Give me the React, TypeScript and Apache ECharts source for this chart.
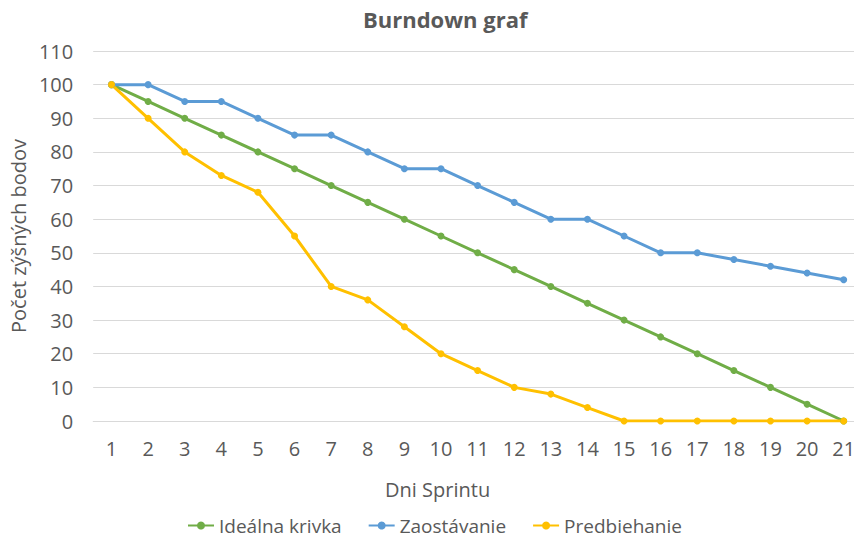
import React, { useEffect, useRef } from "react";
import * as echarts from "echarts";

const days = ["1","2","3","4","5","6","7","8","9","10","11","12","13","14","15","16","17","18","19","20","21"];
const idealna = [100,95,90,85,80,75,70,65,60,55,50,45,40,35,30,25,20,15,10,5,0];
const zaostavanie = [100,100,95,95,90,85,85,80,75,75,70,65,60,60,55,50,50,48,46,44,42];
const predbiehanie = [100,90,80,73,68,55,40,36,28,20,15,10,8,4,0,0,0,0,0,0,0];

const FONT = "Open Sans";
const TXT = "#595959";

export default function App() {
  const ref = useRef<HTMLDivElement>(null);
  useEffect(() => {
    const chart = echarts.init(ref.current!, null, { renderer: "svg" });
    const mk = (name: string, data: number[], color: string) => ({
      name,
      type: "line",
      data,
      symbol: "circle",
      symbolSize: 7,
      color,
      lineStyle: { width: 3, color },
      itemStyle: { color },
    });
    chart.setOption({
      animation: false,
      textStyle: { fontFamily: FONT, color: TXT },
      title: {
        text: "Burndown graf",
        left: 358,
        top: 3,
        textStyle: { fontFamily: FONT, fontSize: 22, fontWeight: "bold", color: TXT },
      },
      legend: {
        left: 182,
        top: 511,
        itemGap: 26,
        itemWidth: 26,
        itemHeight: 10,
        textStyle: { fontFamily: FONT, fontSize: 19, color: TXT },
        data: ["Ideálna krivka", "Zaostávanie", "Predbiehanie"],
      },
      grid: { left: 92, right: 8, top: 51, bottom: 117, containLabel: false },
      xAxis: {
        type: "category",
        data: days,
        boundaryGap: true,
        name: "Dni Sprintu",
        nameLocation: "middle",
        nameGap: 58,
        nameTextStyle: { fontFamily: FONT, fontSize: 20, color: TXT, padding: [0, 80, 0, 0] },
        axisLine: { show: true, lineStyle: { color: "#D9D9D9", width: 1 } },
        axisTick: { show: false },
        axisLabel: { fontFamily: FONT, fontSize: 20, color: TXT, margin: 17 },
      },
      yAxis: {
        type: "value",
        min: 0,
        max: 110,
        interval: 10,
        name: "Počet zýšných bodov",
        nameLocation: "middle",
        nameGap: 62,
        nameTextStyle: { fontFamily: FONT, fontSize: 20, color: TXT },
        axisLine: { show: false },
        axisTick: { show: false },
        axisLabel: { fontFamily: FONT, fontSize: 20, color: TXT, margin: 20 },
        splitLine: { lineStyle: { color: "#D9D9D9", width: 1 } },
      },
      series: [
        mk("Ideálna krivka", idealna, "#70AD47"),
        mk("Zaostávanie", zaostavanie, "#5B9BD5"),
        mk("Predbiehanie", predbiehanie, "#FFC000"),
      ],
    });
    return () => chart.dispose();
  }, []);
  return (
    <div style={{ position: "fixed", left: 0, top: 0, width: 854, height: 538, overflow: "hidden", background: "#fff" }}>
      <div ref={ref} style={{ width: 870, height: 538 }} />
    </div>
  );
}
